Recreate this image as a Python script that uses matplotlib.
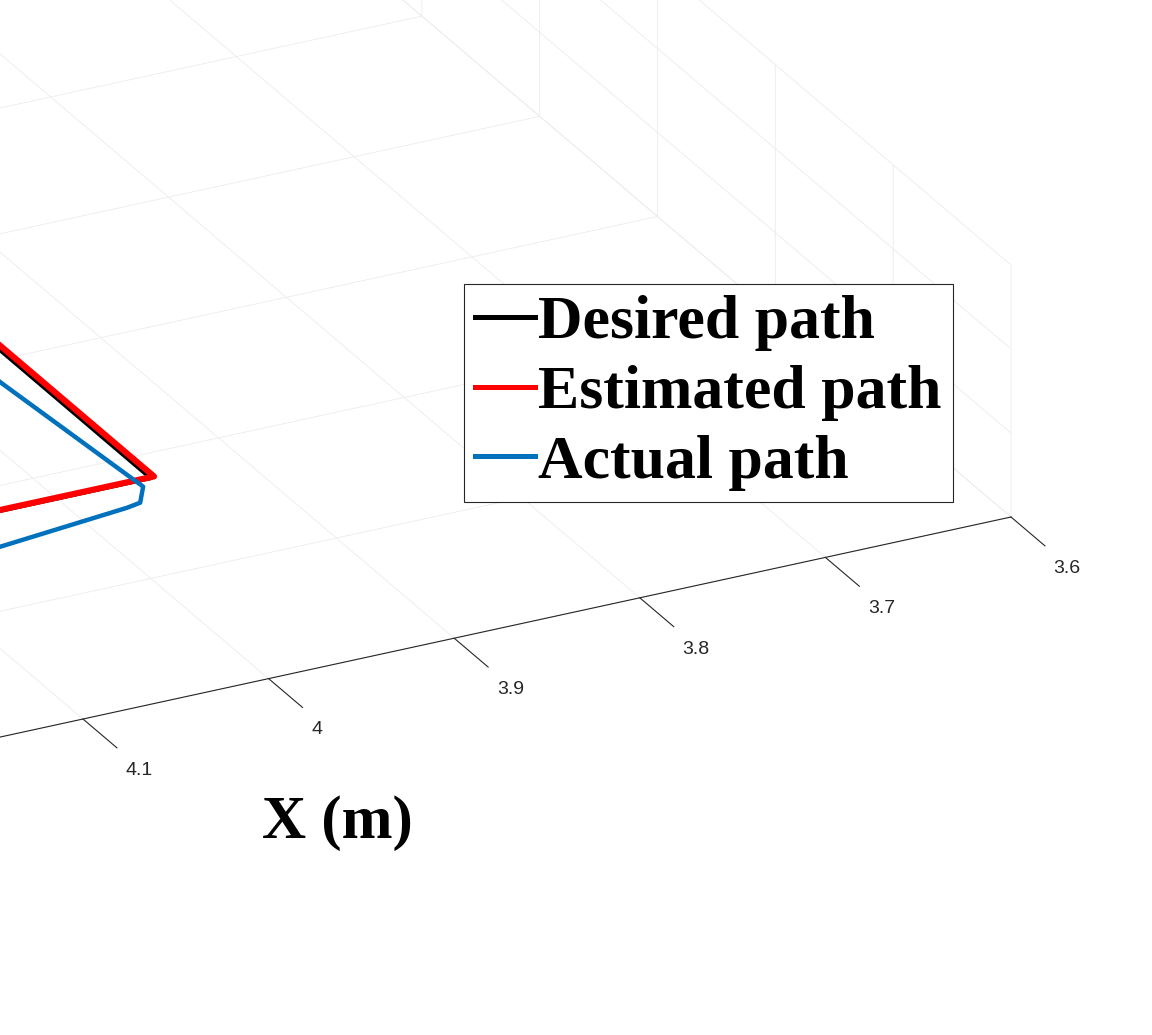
import numpy as np
import matplotlib
matplotlib.use('Agg')
import matplotlib.pyplot as plt
from mpl_toolkits.mplot3d import proj3d
from matplotlib.ticker import FuncFormatter, FixedLocator

# ---------------- data ----------------
x_ticks = [3.6, 3.7, 3.8, 3.9, 4.0, 4.1, 4.2, 4.3, 4.4]
y_ticks = [-1.5, -1.0, -0.5, 0.0, 0.5, 1.0, 1.5]
z_ticks = [0.0, 0.5, 1.0, 1.5]
x_limits = [3.6, 4.447]
y_limits = [-1.5, 1.5]
z_limits = [0.0, 1.5]

desired_x = [4.0, 4.0, 4.4, 4.4, 4.0]
desired_y = [-1.0, 1.0, 1.0, -1.0, -1.0]
desired_z = [0.6, 0.6, 0.6, 0.6, 0.6]

estimated_x = [3.998, 3.998, 4.4, 4.4, 3.998]
estimated_y = [-1.0, 0.998, 0.998, -1.0, -1.0]
estimated_z = [0.6, 0.6, 0.6, 0.6, 0.6]

actual_x = [4.025, 4.0164, 4.0078, 4.0172, 4.0253, 4.0995, 4.4, 4.42, 4.025]
actual_y = [-1.0, 0.49, 1.029, 1.0904, 1.0991, 1.1443, 1.2, -0.95, -1.0]
actual_z = [0.6, 0.6, 0.6, 0.6, 0.6, 0.6, 0.6, 0.6, 0.6]

labels = ['Desired path', 'Estimated path', 'Actual path']
colors = ['#000000', '#ff0000', '#0072bd']

# ---------------- style ----------------
plt.rcParams['font.family'] = ['Liberation Sans', 'DejaVu Sans']
plt.rcParams['grid.color'] = '#ececec'
plt.rcParams['grid.linewidth'] = 0.6
plt.rcParams['xtick.color'] = '#262626'
plt.rcParams['ytick.color'] = '#262626'
plt.rcParams['xtick.major.width'] = 0.8

W, H = 1152, 1035
fig = plt.figure(figsize=(W / 100, H / 100), dpi=100)
fig.patch.set_facecolor('white')
ax = fig.add_axes([0.1, 0.1, 0.5, 0.5 * W / H], projection='3d', proj_type='ortho')
ax.set_facecolor('white')
ax.view_init(elev=25.48, azim=63.16)
ax.set_xlim(*x_limits)
ax.set_ylim(*y_limits)
ax.set_zlim(*z_limits)
ax.set_box_aspect((1761, 1565, 279))

ax.plot(desired_x, desired_y, desired_z, color=colors[0], lw=3.6, label=labels[0],
        solid_joinstyle='round')
ax.plot(estimated_x, estimated_y, estimated_z, color=colors[1], lw=4.4, label=labels[1],
        solid_joinstyle='round')
ax.plot(actual_x, actual_y, actual_z, color=colors[2], lw=3.2, label=labels[2],
        solid_joinstyle='round')

ax.xaxis.set_major_locator(FixedLocator(x_ticks))
ax.yaxis.set_major_locator(FixedLocator(y_ticks))
ax.zaxis.set_major_locator(FixedLocator(z_ticks))
fmt = FuncFormatter(lambda v, p: ('%.1f' % v).rstrip('0').rstrip('.'))
ax.xaxis.set_major_formatter(fmt)
ax.yaxis.set_major_formatter(fmt)
ax.zaxis.set_major_formatter(fmt)

for a in (ax.xaxis, ax.yaxis, ax.zaxis):
    a.set_pane_color((1, 1, 1, 0))
    a.pane.set_edgecolor((1, 1, 1, 0))
    a.line.set_color('#262626')
    a.line.set_linewidth(0.8)
    a._axinfo['tick']['inward_factor'] = 0.6
    a._axinfo['tick']['outward_factor'] = 0.0
ax.tick_params(axis='both', labelsize=14, colors='#262626', pad=44)

ax.xaxis.set_rotate_label(False)
ax.set_xlabel('X (m)', fontsize=44, fontweight='bold', family='Liberation Serif',
              labelpad=116)
ax.set_ylabel('Y (m)', fontsize=44, fontweight='bold', family='Liberation Serif')
ax.set_zlabel('Z (m)', fontsize=44, fontweight='bold', family='Liberation Serif')

leg = ax.legend(loc='upper left', bbox_to_anchor=(464 / W, 1 - 284 / H),
                bbox_transform=fig.transFigure,
                prop={'family': 'Liberation Serif', 'weight': 'bold', 'size': 44.5},
                frameon=True, fancybox=False, edgecolor='#262626', framealpha=1,
                borderpad=0.18, labelspacing=0.22, handlelength=0.97,
                handletextpad=0.05, borderaxespad=0)
leg.get_frame().set_linewidth(0.8)
for ln in leg.get_lines():
    ln.set_linewidth(3.6)

# ---------------- place the (large) 3D box so the crop matches ----------------
fig.canvas.draw()


def frac(x, y, z):
    px, py, _ = proj3d.proj_transform(x, y, z, ax.get_proj())
    d = ax.transData.transform((px, py))
    return ax.transAxes.inverted().transform(d)


f1 = frac(x_limits[0], y_limits[1], z_limits[0])
f2 = frac(4.1, y_limits[1], z_limits[0])
T1 = np.array([1011.0, H - 517.0])
T2 = np.array([83.0, H - 719.0])
S = np.linalg.norm(T1 - T2) / np.linalg.norm(f1 - f2)
X0 = T1[0] - f1[0] * S
Y0 = T1[1] - f1[1] * S
ax.set_position([X0 / W, Y0 / H, S / W, S / H])

# MATLAB-like tick label anchoring (left edge of the label)
for t in ax.xaxis.get_major_ticks():
    t.label1.set_horizontalalignment('left')
    t.label1.set_verticalalignment('center')

fig.savefig('out.png', dpi=100, facecolor='white')
